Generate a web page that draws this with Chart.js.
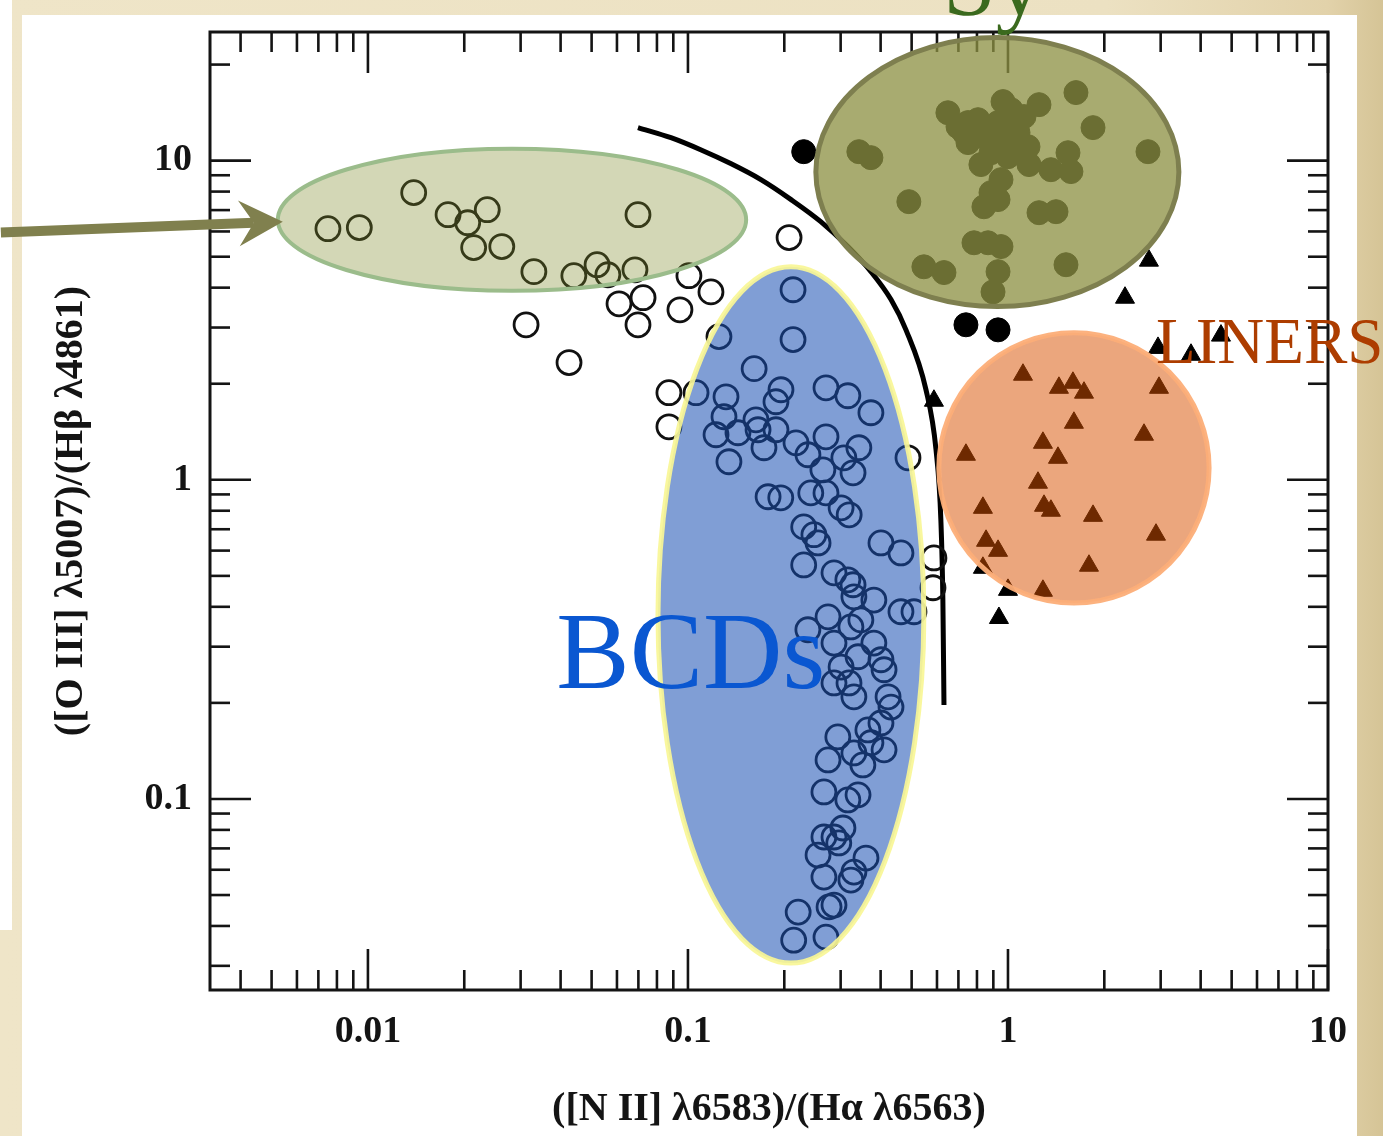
<!DOCTYPE html>
<html>
<head>
<meta charset="utf-8">
<title>BPT diagnostic diagram</title>
<script src="https://cdn.jsdelivr.net/npm/chart.js@4/dist/chart.umd.min.js"></script>
<style>
  html, body { margin: 0; padding: 0; width: 1383px; height: 1136px; overflow: hidden; }
  body { position: relative; background: linear-gradient(90deg, #efe5c8 0%, #ece1c2 80%, #e2d2aa 96%, #d5c496 100%); }
  #strip { position: absolute; left: 0; top: 0; width: 12px; height: 930px; background: #fff; }
  #sheet { position: absolute; left: 22px; top: 15px; width: 1335px; height: 1121px; background: #fff; }
  #wrap { position: absolute; left: 0; top: 0; width: 1383px; height: 1136px; }
</style>
</head>
<body>
<div id="strip"></div>
<div id="sheet"></div>
<div id="wrap"><canvas id="bpt" width="1383" height="1136"></canvas></div>
<script>
// ---- H II regions / blue compact dwarfs (open circles) ----
const hiiX = [0.0075, 0.0094, 0.0139, 0.0178, 0.0205, 0.0236, 0.0214, 0.0262, 0.0330, 0.0440,
  0.0520, 0.0562, 0.0698, 0.0683, 0.1007, 0.118, 0.0609, 0.0724, 0.0944, 0.0698,
  0.0312, 0.0425, 0.207, 0.0872, 0.0872, 0.487, 0.587, 0.583, 0.213, 0.213,
  0.125, 0.161, 0.106, 0.1315, 0.1296, 0.1224, 0.1433, 0.1343, 0.1631, 0.1656,
  0.1728, 0.1884, 0.1953, 0.1884, 0.2176, 0.2371, 0.270, 0.316, 0.373, 0.270,
  0.264, 0.307, 0.342, 0.328, 0.242, 0.270, 0.178, 0.195, 0.301, 0.319,
  0.230, 0.2475, 0.255, 0.230, 0.401, 0.463, 0.286, 0.316, 0.328, 0.330,
  0.381, 0.463, 0.5085, 0.274, 0.237, 0.323, 0.347, 0.286, 0.340, 0.381,
  0.401, 0.410, 0.301, 0.286, 0.3186, 0.330, 0.422, 0.431, 0.401, 0.365,
  0.294, 0.274, 0.330, 0.410, 0.373, 0.352, 0.266, 0.316, 0.340, 0.305,
  0.266, 0.286, 0.255, 0.296, 0.360, 0.330, 0.266, 0.323, 0.276, 0.286,
  0.221, 0.270, 0.214];
const hiiY = [6.12, 6.17, 7.94, 6.77, 6.39, 7.02, 5.34, 5.38, 4.49, 4.36,
  4.72, 4.39, 6.77, 4.55, 4.36, 3.88, 3.56, 3.72, 3.41, 3.06,
  3.06, 2.33, 5.74, 1.875, 1.466, 1.172, 0.569, 0.459, 3.94, 2.75,
  2.81, 2.23, 1.875, 1.82, 1.576, 1.384, 1.404, 1.139, 1.542, 1.435,
  1.26, 1.756, 1.915, 1.435, 1.306, 1.198, 1.942, 1.834, 1.622, 1.364,
  1.075, 1.172, 1.26, 1.052, 0.910, 0.910, 0.885, 0.878, 0.817, 0.777,
  0.712, 0.673, 0.634, 0.541, 0.634, 0.590, 0.511, 0.486, 0.469, 0.430,
  0.420, 0.386, 0.386, 0.372, 0.339, 0.346, 0.364, 0.308, 0.279, 0.308,
  0.273, 0.254, 0.259, 0.231, 0.231, 0.209, 0.209, 0.194, 0.173, 0.1645,
  0.1565, 0.1325, 0.1394, 0.1425, 0.150, 0.1278, 0.1052, 0.0993, 0.1030, 0.0811,
  0.076, 0.076, 0.0667, 0.0728, 0.0653, 0.0590, 0.0569, 0.0557, 0.0459, 0.0465,
  0.0442, 0.0369, 0.0361];

// ---- Seyfert galaxies (filled circles) ----
const seyX = [0.230, 0.739, 0.931, 0.342, 0.373, 0.490, 0.649, 0.965, 1.250, 1.631,
  1.844, 2.738, 0.806, 0.729, 0.841, 1.022, 1.122, 0.931, 1.075, 1.155,
  0.823, 1.163, 1.0, 1.362, 1.540, 1.573, 0.951, 0.885, 0.841, 0.931,
  1.250, 1.413, 0.783, 0.951, 0.866, 0.931, 0.898, 0.546, 0.631, 1.518,
  0.698, 0.750, 0.885, 1.044, 0.885, 0.972, 1.075, 0.931, 1.022, 0.750];
const seyY = [10.67, 3.06, 2.95, 10.67, 10.22, 7.44, 14.13, 15.31, 14.98, 16.34,
  12.69, 10.67, 13.44, 12.24, 11.89, 12.78, 13.74, 11.06, 11.06, 11.06,
  9.72, 9.72, 10.29, 9.37, 10.59, 9.24, 8.72, 7.94, 7.17, 7.55,
  6.87, 6.92, 5.53, 5.38, 5.53, 4.49, 3.88, 4.65, 4.46, 4.72,
  12.78, 11.39, 12.51, 11.89, 10.59, 11.89, 12.24, 13.16, 14.45, 13.16];

// ---- LINERs (filled triangles) ----
const linerX = [2.757, 2.321, 2.943, 3.732, 4.63, 0.587, 0.835, 1.0, 0.937,
  1.114, 1.443, 1.596, 1.728, 2.964, 1.607, 1.286, 0.739, 1.433, 2.661,
  1.241, 0.835, 1.296, 1.362, 1.844, 2.901, 0.854, 0.931, 1.791, 1.286];
const linerY = [4.86, 3.72, 2.59, 2.465, 2.83, 1.769, 0.530, 0.452, 0.369,
  2.134, 1.942, 2.014, 1.875, 1.942, 1.509, 1.306, 1.198, 1.172, 1.384,
  0.979, 0.817, 0.829, 0.800, 0.771, 0.673, 0.644, 0.599, 0.538, 0.449];

// ---- demarcation curve between star-forming and AGN ----
const curveX = [0.0698, 0.0885, 0.110, 0.136, 0.169, 0.210, 0.260, 0.316, 0.373, 0.431, 0.480, 0.554, 0.596, 0.617, 0.626, 0.631];
const curveY = [12.7, 11.8, 10.8, 9.79, 8.72, 7.55, 6.44, 5.38, 4.49, 3.67, 2.95, 1.92, 1.24, 0.749, 0.421, 0.197];

// ---- axis ticks ----
const xMajorTicks = [0.01, 0.1, 1, 10];
const xTickLabels = ['0.01', '0.1', '1', '10'];
const xMinorTicks = [0.004, 0.005, 0.006, 0.007, 0.008, 0.009,
  0.02, 0.03, 0.04, 0.05, 0.06, 0.07, 0.08, 0.09,
  0.2, 0.3, 0.4, 0.5, 0.6, 0.7, 0.8, 0.9,
  2, 3, 4, 5, 6, 7, 8, 9];
const yMajorTicks = [0.1, 1, 10];
const yTickLabels = ['0.1', '1', '10'];
const yMinorTicks = [0.03, 0.04, 0.05, 0.06, 0.07, 0.08, 0.09,
  0.2, 0.3, 0.4, 0.5, 0.6, 0.7, 0.8, 0.9,
  2, 3, 4, 5, 6, 7, 8, 9, 20];

const xRange = [0.00321, 10];
const yRange = [0.0252, 25.3];

const zip = (xs, ys) => xs.map((x, i) => ({ x, y: ys[i] }));

// ---- highlighted regions, text labels and pointer (placed in data units) ----
const regions = [
  { x: [0.00523, 0.152], y: [3.91, 10.9],  fill: 'rgba(125,137,40,0.34)', stroke: '#9bbc8b', lw: 4 },
  { x: [0.251, 3.42],    y: [3.49, 24.3],  fill: 'rgba(141,145,67,0.76)', stroke: '#7e7f4f', lw: 5 },
  { x: [0.0806, 0.546],  y: [0.0306, 4.65], fill: 'rgba(23,78,179,0.55)', stroke: 'rgba(249,246,150,0.92)', lw: 5 },
  { x: [0.608, 4.25],    y: [0.411, 2.89], fill: 'rgba(216,80,0,0.51)',   stroke: 'rgba(252,174,120,0.95)', lw: 5 }
];
const regionLabels = [
  { text: 'BCDs',   at: [0.0388, 0.223], size: 110, color: '#0a57d1' },
  { text: 'LINERS', at: [2.90, 2.33],    size: 65,  color: '#ad3d00' },
  { text: 'Sy',     at: [0.626, 28.5],   size: 95,  color: '#3b6a1e' }
];
const pointer = { tail: [0.000713, 5.95], tip: [0.00542, 6.44], color: '#80804e' };

function makeTicks(minor, major) {
  return minor.concat(major).sort((a, b) => a - b).map(v => ({ value: v, major: major.includes(v) }));
}

// the axis box itself carries no extra padding, so the frame sits exactly on the layout padding
function noScalePadding(s) {
  s.paddingTop = 0; s.paddingBottom = 0; s.paddingLeft = 0; s.paddingRight = 0;
}

const frameTicks = {
  id: 'frameTicks',
  beforeDatasetsDraw(chart) {
    const { ctx, chartArea: a, scales } = chart;
    ctx.save();
    ctx.strokeStyle = '#141414';
    ctx.lineWidth = 2.6;
    const seg = (x1, y1, x2, y2) => { ctx.beginPath(); ctx.moveTo(x1, y1); ctx.lineTo(x2, y2); ctx.stroke(); };
    scales.x.ticks.forEach(t => {
      const p = scales.x.getPixelForValue(t.value);
      const len = xMajorTicks.includes(t.value) ? 41 : 20;
      seg(p, a.bottom, p, a.bottom - len);
      seg(p, a.top, p, a.top + len);
    });
    scales.y.ticks.forEach(t => {
      const p = scales.y.getPixelForValue(t.value);
      const len = yMajorTicks.includes(t.value) ? 41 : 20;
      seg(a.left, p, a.left + len, p);
      seg(a.right, p, a.right - len, p);
    });
    ctx.lineWidth = 3;
    ctx.strokeRect(a.left, a.top, a.right - a.left, a.bottom - a.top);
    ctx.restore();
  }
};

const overlays = {
  id: 'overlays',
  afterDraw(chart) {
    const { ctx, scales } = chart;
    const px = v => scales.x.getPixelForValue(v);
    const py = v => scales.y.getPixelForValue(v);
    ctx.save();
    regions.forEach(r => {
      const x1 = px(r.x[0]), x2 = px(r.x[1]);
      const y1 = py(r.y[1]), y2 = py(r.y[0]);
      ctx.beginPath();
      ctx.ellipse((x1 + x2) / 2, (y1 + y2) / 2, (x2 - x1) / 2, (y2 - y1) / 2, 0, 0, Math.PI * 2);
      ctx.fillStyle = r.fill;
      ctx.fill();
      ctx.lineWidth = r.lw;
      ctx.strokeStyle = r.stroke;
      ctx.stroke();
    });

    // pointer arrow
    const tx = px(pointer.tail[0]), ty = py(pointer.tail[1]);
    const hx = px(pointer.tip[0]), hy = py(pointer.tip[1]);
    const ang = Math.atan2(hy - ty, hx - tx);
    const ux = Math.cos(ang), uy = Math.sin(ang);
    const nx = -uy, ny = ux;
    const back = 44, half = 23, notch = 29;
    ctx.strokeStyle = pointer.color;
    ctx.fillStyle = pointer.color;
    ctx.lineWidth = 10;
    ctx.beginPath();
    ctx.moveTo(tx, ty);
    ctx.lineTo(hx - ux * notch, hy - uy * notch);
    ctx.stroke();
    ctx.beginPath();
    ctx.moveTo(hx, hy);
    ctx.lineTo(hx - ux * back + nx * half, hy - uy * back + ny * half);
    ctx.lineTo(hx - ux * notch, hy - uy * notch);
    ctx.lineTo(hx - ux * back - nx * half, hy - uy * back - ny * half);
    ctx.closePath();
    ctx.fill();

    // region names
    regionLabels.forEach(l => {
      ctx.font = l.size + 'px "Liberation Serif"';
      ctx.fillStyle = l.color;
      ctx.textAlign = 'left';
      ctx.textBaseline = 'alphabetic';
      ctx.fillText(l.text, px(l.at[0]), py(l.at[1]));
    });
    ctx.restore();
  }
};

const tickFont = { family: 'Liberation Serif', weight: 'bold', size: 38 };
const titleFont = { family: 'Liberation Serif', weight: 'bold', size: 40 };

new Chart(document.getElementById('bpt'), {
  type: 'scatter',
  data: {
    datasets: [
      {
        label: 'H II / BCD',
        data: zip(hiiX, hiiY),
        pointStyle: 'circle',
        pointRadius: 12,
        pointBorderWidth: 2.8,
        pointBorderColor: '#111',
        pointBackgroundColor: 'rgba(0,0,0,0)'
      },
      {
        label: 'Seyfert',
        data: zip(seyX, seyY),
        pointStyle: 'circle',
        pointRadius: 12,
        pointBorderWidth: 1,
        pointBorderColor: '#000',
        pointBackgroundColor: '#000'
      },
      {
        label: 'LINER',
        data: zip(linerX, linerY),
        pointStyle: 'triangle',
        pointRadius: 11,
        pointBorderWidth: 1,
        pointBorderColor: '#000',
        pointBackgroundColor: '#000'
      },
      {
        label: 'demarcation',
        data: zip(curveX, curveY),
        showLine: true,
        pointRadius: 0,
        borderColor: '#000',
        borderWidth: 5,
        cubicInterpolationMode: 'monotone',
        fill: false
      }
    ]
  },
  options: {
    responsive: false,
    animation: false,
    events: [],
    layout: { padding: { left: 0, top: 32, right: 55, bottom: 0 } },
    plugins: { legend: { display: false }, tooltip: { enabled: false } },
    scales: {
      x: {
        type: 'logarithmic',
        position: 'bottom',
        min: xRange[0],
        max: xRange[1],
        grid: { display: false, drawTicks: false, tickLength: 0 },
        border: { display: false },
        afterBuildTicks: s => { s.ticks = makeTicks(xMinorTicks, xMajorTicks); },
        afterFit: s => { s.height = 146; noScalePadding(s); },
        ticks: {
          autoSkip: false,
          maxRotation: 0,
          minRotation: 0,
          padding: 19,
          color: '#141414',
          font: tickFont,
          callback: v => { const i = xMajorTicks.indexOf(v); return i >= 0 ? xTickLabels[i] : ''; }
        },
        title: {
          display: true,
          text: '([N II] λ6583)/(Hα λ6563)',
          color: '#141414',
          font: titleFont,
          padding: { top: 0, bottom: 2 }
        }
      },
      y: {
        type: 'logarithmic',
        position: 'left',
        min: yRange[0],
        max: yRange[1],
        grid: { display: false, drawTicks: false, tickLength: 0 },
        border: { display: false },
        afterBuildTicks: s => { s.ticks = makeTicks(yMinorTicks, yMajorTicks); },
        afterFit: s => { s.width = 210; noScalePadding(s); },
        ticks: {
          autoSkip: false,
          padding: 18,
          color: '#141414',
          font: tickFont,
          callback: v => { const i = yMajorTicks.indexOf(v); return i >= 0 ? yTickLabels[i] : ''; }
        },
        title: {
          display: true,
          text: '([O III] λ5007)/(Hβ λ4861)',
          color: '#141414',
          font: titleFont,
          padding: { top: 48, bottom: 0 }
        }
      }
    }
  },
  plugins: [frameTicks, overlays]
});
</script>
</body>
</html>
